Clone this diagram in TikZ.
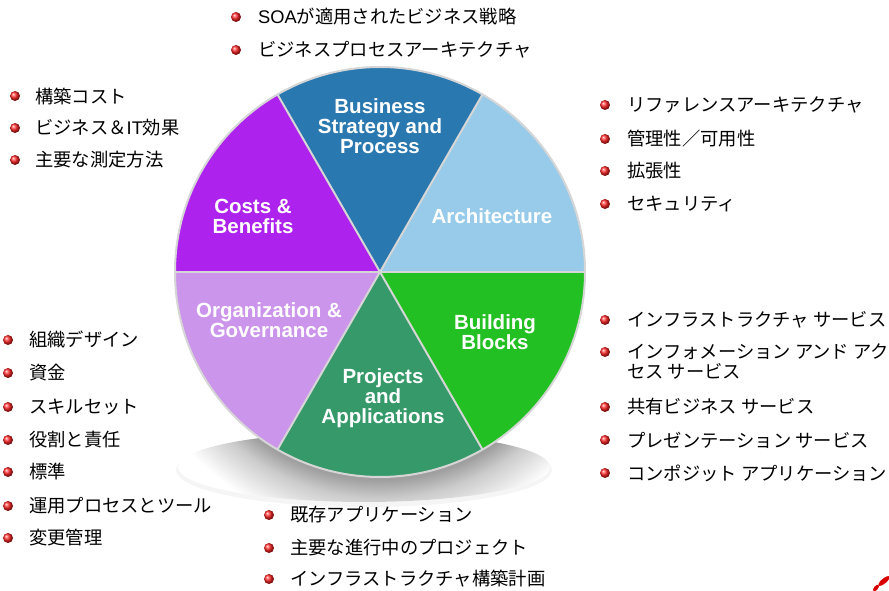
\documentclass[tikz,border=0pt]{standalone}
\usepackage{fontspec}
\setmainfont{Liberation Sans}
\newfontfamily\jpfont{Noto Sans CJK JP}
\tikzset{>=stealth}

\definecolor{archblue}{HTML}{97CBE9}
\definecolor{bizblue}{HTML}{2A78B0}
\definecolor{costpurple}{HTML}{AE22EE}
\definecolor{orglilac}{HTML}{CC95EC}
\definecolor{projgreen}{HTML}{36996A}
\definecolor{bldgreen}{HTML}{22C022}
\definecolor{sepgray}{HTML}{D6D6D6}
% pie shadow: wheel edge sits near 19.7bp, shadow fades out at 25bp
\pgfdeclareradialshading{wheelshadow}{\pgfpoint{0bp}{0bp}}{color(0bp)=(gray!75); color(19.7bp)=(gray!75); color(21.5bp)=(gray!40); color(25bp)=(white); color(50bp)=(white)}

\begin{document}
\begin{tikzpicture}[x=1pt, y=1pt,
	slab/.style={text=white, font=\fontsize{20.5}{20}\selectfont\bfseries, align=center},
	bul/.style={circle, inner sep=0pt, minimum size=10pt, ball color=red!85!white},
	itm/.style={anchor=west, inner sep=0pt, align=left, font=\jpfont\fontsize{18.3}{20}\selectfont},
	sep/.style={draw=sepgray, line width=2pt}]
	\useasboundingbox (0,0) rectangle (889,591);

	% platter under the wheel
	\fill[gray!8] (364,121) ellipse [x radius=188, y radius=37];
	\fill[white] (364,124) ellipse [x radius=186, y radius=35];
	\begin{scope}
		\clip (364,124) ellipse [x radius=186, y radius=35];
		\shade[shading=wheelshadow] (380,316) circle[radius=260];
	\end{scope}

	% the wheel
	\coordinate (c) at (380,319);
	\fill[archblue] (c) -- ++(0:205) arc[start angle=0, end angle=60, radius=205] -- cycle;
	\fill[bizblue] (c) -- ++(60:205) arc[start angle=60, end angle=120, radius=205] -- cycle;
	\fill[costpurple] (c) -- ++(120:205) arc[start angle=120, end angle=180, radius=205] -- cycle;
	\fill[orglilac] (c) -- ++(180:205) arc[start angle=180, end angle=240, radius=205] -- cycle;
	\fill[projgreen] (c) -- ++(240:205) arc[start angle=240, end angle=300, radius=205] -- cycle;
	\fill[bldgreen] (c) -- ++(300:205) arc[start angle=300, end angle=360, radius=205] -- cycle;
	\draw[sep] (c) -- ++(0:205);
	\draw[sep] (c) -- ++(60:205);
	\draw[sep] (c) -- ++(120:205);
	\draw[sep] (c) -- ++(180:205);
	\draw[sep] (c) -- ++(240:205);
	\draw[sep] (c) -- ++(300:205);
	\draw[sep] (c) circle[radius=205];

	\node[slab] (biz) at (380,465) {Business\\Strategy and\\Process};
	\node[slab] (arch) at (492,375) {Architecture};
	\node[slab] (cost) at (253,375) {Costs \&\\Benefits};
	\node[slab] (org) at (269,271) {Organization \&\\Governance};
	\node[slab] (bld) at (495,259) {Building\\Blocks};
	\node[slab] (proj) at (383,193) {Projects\\and\\Applications};

	% business strategy
	\node[bul] (bb1) at (236,574) {};
	\node[itm] (bt1) at (258,574) {{\rmfamily SOA}が適用されたビジネス戦略};
	\node[bul] (bb2) at (236,541) {};
	\node[itm] (bt2) at (258,541) {ビジネスプロセスアーキテクチャ};

	% costs
	\node[bul] (cb1) at (15,495) {};
	\node[itm] (ct1) at (35,495) {構築コスト};
	\node[bul] (cb2) at (15,463) {};
	\node[itm] (ct2) at (35,463) {ビジネス＆{\rmfamily IT}効果};
	\node[bul] (cb3) at (15,431) {};
	\node[itm] (ct3) at (35,431) {主要な測定方法};

	% architecture
	\node[bul] (ab1) at (605,486) {};
	\node[itm] (at1) at (627,486) {リファレンスアーキテクチャ};
	\node[bul] (ab2) at (605,452) {};
	\node[itm] (at2) at (627,452) {管理性／可用性};
	\node[bul] (ab3) at (605,420) {};
	\node[itm] (at3) at (627,420) {拡張性};
	\node[bul] (ab4) at (605,387) {};
	\node[itm] (at4) at (627,387) {セキュリティ};

	% building blocks
	\node[bul] (kb1) at (605,271) {};
	\node[itm] (kt1) at (627,271) {インフラストラクチャ サービス};
	\node[bul] (kb2) at (605,239) {};
	\node[itm] (kt2) at (627,229) {インフォメーション アンド アク\\セス サービス};
	\node[bul] (kb3) at (605,184) {};
	\node[itm] (kt3) at (627,184) {共有ビジネス サービス};
	\node[bul] (kb4) at (605,151) {};
	\node[itm] (kt4) at (627,151) {プレゼンテーション サービス};
	\node[bul] (kb5) at (605,118) {};
	\node[itm] (kt5) at (627,118) {コンポジット アプリケーション};

	% organization
	\node[bul] (ob1) at (8,251) {};
	\node[itm] (ot1) at (29,251) {組織デザイン};
	\node[bul] (ob2) at (8,218) {};
	\node[itm] (ot2) at (29,218) {資金};
	\node[bul] (ob3) at (8,184) {};
	\node[itm] (ot3) at (29,184) {スキルセット};
	\node[bul] (ob4) at (8,151) {};
	\node[itm] (ot4) at (29,151) {役割と責任};
	\node[bul] (ob5) at (8,119) {};
	\node[itm] (ot5) at (29,119) {標準};
	\node[bul] (ob6) at (8,85) {};
	\node[itm] (ot6) at (29,85) {運用プロセスとツール};
	\node[bul] (ob7) at (8,53) {};
	\node[itm] (ot7) at (29,53) {変更管理};

	% projects
	\node[bul] (pb1) at (269,76) {};
	\node[itm] (pt1) at (290,76) {既存アプリケーション};
	\node[bul] (pb2) at (269,43) {};
	\node[itm] (pt2) at (290,43) {主要な進行中のプロジェクト};
	\node[bul] (pb3) at (269,12) {};
	\node[itm] (pt3) at (290,12) {インフラストラクチャ構築計画};

	% corner mark
	\fill[red!85!black, rotate around={40:(884,10)}] (884,10) ellipse [x radius=7, y radius=2.5];
	\fill[red!85!black, rotate around={50:(876,3)}] (876,3) ellipse [x radius=4, y radius=2];
\end{tikzpicture}
\end{document}
